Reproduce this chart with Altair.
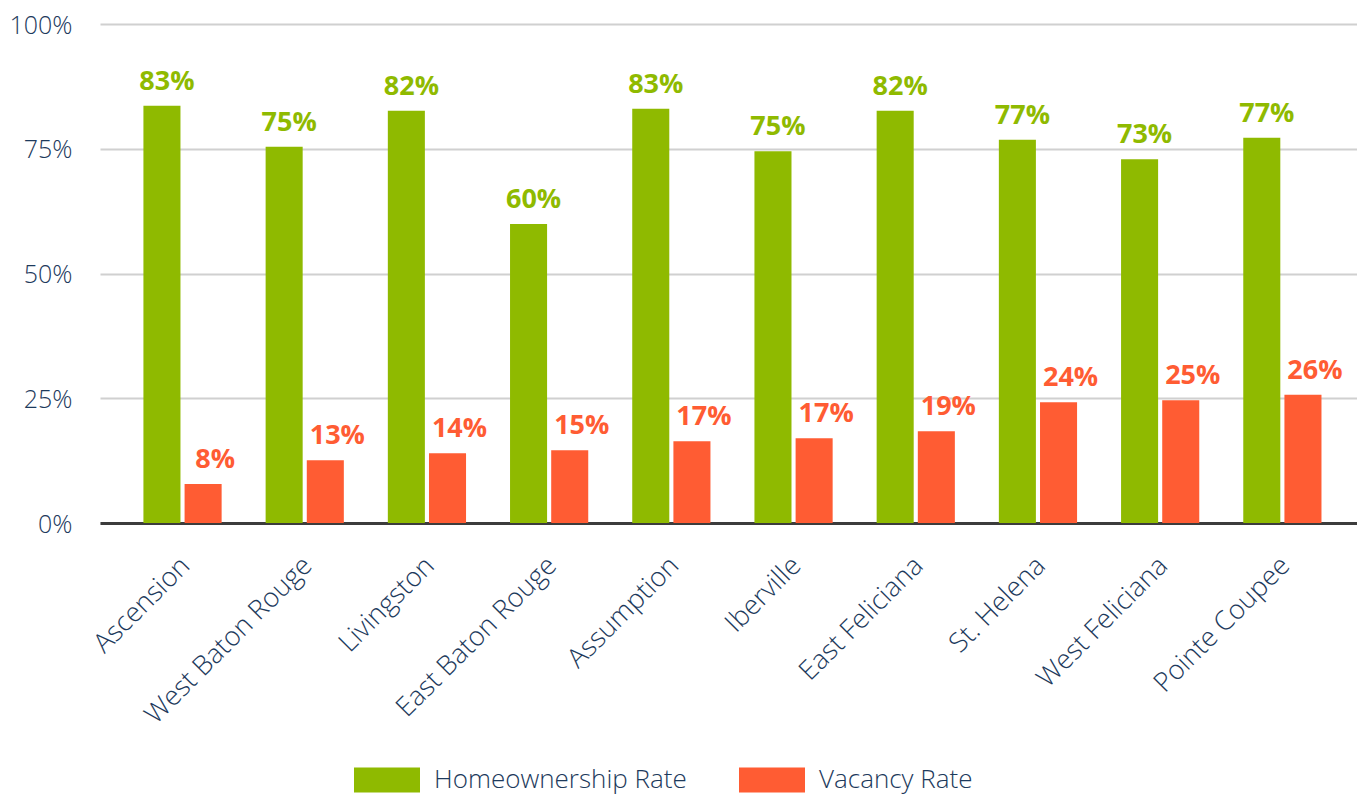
import altair as alt
import pandas as pd

parishes = ["Ascension", "West Baton Rouge", "Livingston", "East Baton Rouge", "Assumption",
            "Iberville", "East Feliciana", "St. Helena", "West Feliciana", "Pointe Coupee"]
homeownership = [83.6, 75.4, 82.6, 59.9, 83.0, 74.5, 82.6, 76.8, 72.9, 77.2]
vacancy = [7.8, 12.6, 14.0, 14.6, 16.4, 17.0, 18.4, 24.2, 24.6, 25.7]
home_labels = ["83%", "75%", "82%", "60%", "83%", "75%", "82%", "77%", "73%", "77%"]
vac_labels = ["8%", "13%", "14%", "15%", "17%", "17%", "19%", "24%", "25%", "26%"]
series = ["Homeownership Rate", "Vacancy Rate"]
colors = ["#8FBA00", "#FF5C33"]
y_ticks = [0, 25, 50, 75, 100]

FONT = "Open Sans"
NAVY = "#1D3A5C"

rows = []
for i, p in enumerate(parishes):
    rows.append({"parish": p, "series": series[0], "value": homeownership[i], "label": home_labels[i]})
    rows.append({"parish": p, "series": series[1], "value": vacancy[i], "label": vac_labels[i]})
df = pd.DataFrame(rows)

x_enc = alt.X(
    "parish:N", sort=parishes,
    scale=alt.Scale(paddingInner=0.36, paddingOuter=0.323, align=0.55),
    axis=alt.Axis(title=None, labelAngle=315, labelAlign="right", labelBaseline="top",
                  labelPadding=29, labelOffset=-6, labelFontSize=27, labelFont=FONT,
                  labelFontWeight=300, labelColor=NAVY, ticks=False, domain=True,
                  domainColor="#3C3C3C", domainWidth=3, labelLimit=0, grid=False),
)
xo_enc = alt.XOffset("series:N", sort=series, scale=alt.Scale(paddingInner=0.1, paddingOuter=0))
y_enc = alt.Y(
    "value:Q",
    scale=alt.Scale(domain=[0, 100], nice=False, zero=True),
    axis=alt.Axis(values=y_ticks, labelExpr="datum.value + '%'", title=None, domain=False,
                  ticks=False, grid=True, gridColor="#D0D0D0", gridWidth=2, labelPadding=28,
                  labelOffset=1, labelFontSize=25, labelFont=FONT, labelFontWeight=300,
                  labelColor=NAVY),
)

bars = alt.Chart(df).mark_bar().encode(
    x=x_enc, xOffset=xo_enc, y=y_enc,
    color=alt.Color(
        "series:N", sort=series,
        scale=alt.Scale(domain=series, range=colors),
        legend=alt.Legend(
            title=None, orient="none", legendX=274, legendY=743, direction="horizontal",
            symbolType="M-6.6,-2.5H6.6V2.5H-6.6Z", symbolSize=100, symbolStrokeWidth=0,
            labelFont=FONT, labelFontSize=26, labelFontWeight=300, labelColor=NAVY,
            labelOffset=34, columnPadding=52, labelLimit=0,
        ),
    ),
)

text_home = alt.Chart(df).transform_filter(alt.datum.series == series[0]).mark_text(
    font=FONT, fontSize=27, fontWeight=700, baseline="alphabetic", dy=-16, dx=5, color=colors[0]
).encode(x=x_enc, xOffset=xo_enc, y=y_enc, text="label:N")

text_vac = alt.Chart(df).transform_filter(alt.datum.series == series[1]).mark_text(
    font=FONT, fontSize=27, fontWeight=700, baseline="alphabetic", dy=-16, dx=12, color=colors[1]
).encode(x=x_enc, xOffset=xo_enc, y=y_enc, text="label:N")

chart = alt.layer(bars, text_home, text_vac).properties(
    width=1257, height=499,
    autosize=alt.AutoSizeParams(type="none"),
    padding={"left": 92, "top": 16, "right": 0, "bottom": 274},
).configure_view(stroke=None)

chart.save("out.html", embed_options={"renderer": "svg", "actions": False})
